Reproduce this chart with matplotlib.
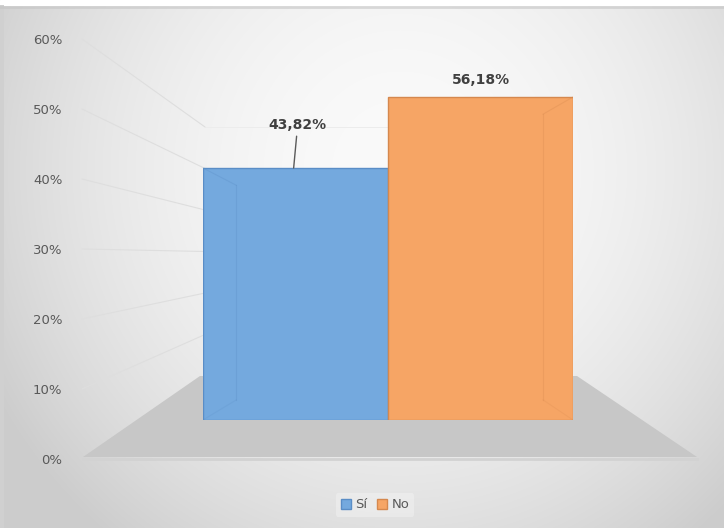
import numpy as np
import matplotlib
matplotlib.use("Agg")
import matplotlib.pyplot as plt
from matplotlib.patches import Polygon, Rectangle, ConnectionPatch
from matplotlib.ticker import FuncFormatter

categories = ["Sí", "No"]
values = [43.82, 56.18]
value_labels = ["43,82%", "56,18%"]
y_ticks = [0, 10, 20, 30, 40, 50, 60]
colors = ["#74A9DE", "#F6A565"]
edge_colors = ["#5A8DC6", "#D5884E"]
label_offsets = [(4, 43), (0, 17)]

W, H = 724, 528
fig = plt.figure(figsize=(W / 100, H / 100), dpi=100)


def fr(x0, y0, x1, y1):
    return [x0 / W, 1 - y1 / H, (x1 - x0) / W, (y1 - y0) / H]


# background
bg = fig.add_axes([0, 0, 1, 1])
bg.set_xlim(0, W)
bg.set_ylim(H, 0)
bg.axis("off")
yy, xx = np.mgrid[0:H, 0:W]
r2 = ((xx - 400) / 410.0) ** 2 + ((yy - 170) / 420.0) ** 2
g = np.clip(250 - 36 * r2, 204, 251) / 255.0
bg.imshow(np.dstack([g, g, g]), extent=(0, W, H, 0), aspect="auto", zorder=0)
bg.add_patch(Rectangle((0, 0), W, 5, color="white", zorder=1))
bg.plot([0, W], [6.5, 6.5], color="#c4c4c4", lw=2, alpha=0.6, zorder=2)
bg.add_patch(Rectangle((0, 5), 4, H, color="#d0d0d0", zorder=1, lw=0))
# floor
bg.add_patch(Polygon([(83, 457), (697, 457), (577, 376), (200, 376)],
                     closed=True, facecolor="#c7c7c7", edgecolor="none", zorder=3))
bg.plot([83, 697], [458.5, 458.5], color="#d2d2d2", lw=2, zorder=3)

# front value axis (tick labels)
ax = fig.add_axes(fr(82, 39, 697, 459))
ax.set_ylim(0, 60)
ax.set_xlim(0, 1)
ax.patch.set_visible(False)
for s in ax.spines.values():
    s.set_visible(False)
ax.set_xticks([])
ax.set_yticks(y_ticks)
ax.yaxis.set_major_formatter(FuncFormatter(lambda v, p: f"{v:.0f}%"))
ax.tick_params(axis="y", length=0, pad=14, labelsize=9.5, labelcolor="#595959")

# back wall axis
axb = fig.add_axes(fr(205, 127, 560, 376))
axb.set_ylim(0, 60)
axb.set_xlim(0, 1)
axb.axis("off")
for v in y_ticks[1:]:
    axb.axhline(v, color="#ececec", lw=0.7, zorder=1)
    con = ConnectionPatch(xyA=(0, v), coordsA=ax.get_yaxis_transform(),
                          xyB=(0, v), coordsB=axb.get_yaxis_transform(),
                          color="#dedede", lw=0.8)
    con.set_clip_on(False)
    axb.add_artist(con)

# bars
axr = fig.add_axes(fr(203, 75, 573, 420))
axr.set_ylim(0, 60)
axr.set_xlim(-0.5, 1.5)
axr.axis("off")
x = np.arange(len(categories))
bars = axr.bar(x, values, width=1.0, color=colors, edgecolor=edge_colors,
               linewidth=1.0, zorder=3)
for b, c in zip(bars, categories):
    b.set_label(c)

# inner 3D back edges
for i, (xi, v, ec) in enumerate(zip(x, values, edge_colors)):
    left, right = xi - 0.5, xi + 0.5
    dx = 0.18
    if i == 0:
        xe = left + dx
        corner = left
    else:
        xe = right - dx * 0.9
        corner = right
    ytop = v - 3.0
    ybot = 3.5
    axr.plot([xe, xe], [ybot, ytop], color=ec, lw=0.8, alpha=0.3, zorder=4)
    axr.plot([corner, xe], [v, ytop], color=ec, lw=0.8, alpha=0.3, zorder=4)
    axr.plot([corner, xe], [0, ybot], color=ec, lw=0.8, alpha=0.2, zorder=4)

# data labels
for i, (xi, v, lab, off) in enumerate(zip(x, values, value_labels, label_offsets)):
    if i == 0:
        axr.annotate(lab, xy=(xi - 0.01, v), xytext=off, textcoords="offset pixels",
                     ha="center", va="center", fontsize=10, fontweight="bold",
                     color="#404040", zorder=6,
                     arrowprops=dict(arrowstyle="-", color="#5a5a5a", lw=1.0,
                                     shrinkA=1, shrinkB=0))
    else:
        axr.annotate(lab, xy=(xi, v), xytext=off, textcoords="offset pixels",
                     ha="center", va="center", fontsize=10, fontweight="bold",
                     color="#404040", zorder=6)

leg = fig.legend(handles=list(bars), labels=categories, loc="center",
                 bbox_to_anchor=(375 / W, 1 - 505 / H), ncol=2, fontsize=9.5,
                 frameon=True, handlelength=0.8, handleheight=0.8,
                 handletextpad=0.3, columnspacing=0.7, borderpad=0.4)
leg.get_frame().set_facecolor("#f0f0f0")
leg.get_frame().set_edgecolor("none")
leg.get_frame().set_alpha(0.6)
for t in leg.get_texts():
    t.set_color("#595959")

fig.savefig("out.png", dpi=100)
